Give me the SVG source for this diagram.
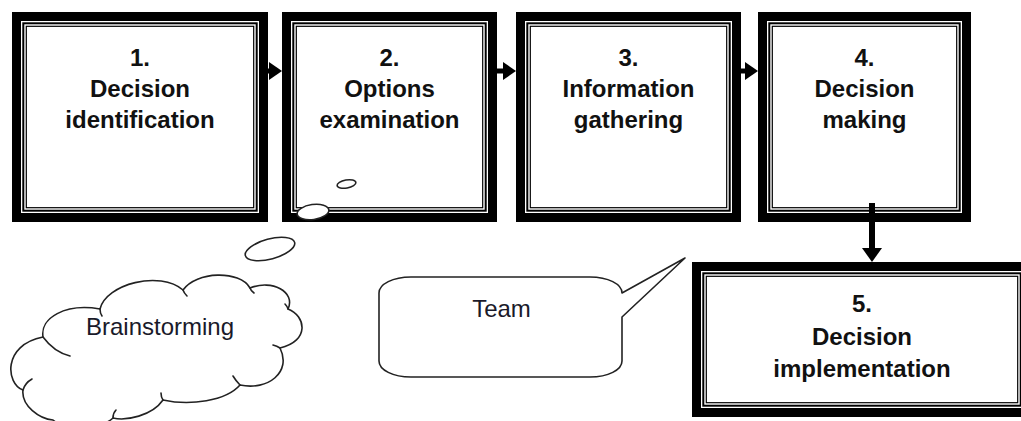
<svg xmlns="http://www.w3.org/2000/svg" width="1021" height="421" viewBox="0 0 1021 421">
<style>
.outer{fill:#fff;stroke:#000;stroke-width:9}
.la{fill:none;stroke:#000;stroke-width:2}
.lb{fill:none;stroke:#000;stroke-width:1.2}
.bt{font-family:"Liberation Sans",Arial,sans-serif;font-weight:bold;font-size:24px;fill:#111;text-anchor:middle}
.nt{font-family:"Liberation Sans",Arial,sans-serif;font-size:24px;fill:#1a1a2a;text-anchor:middle}
.shape{fill:#fff;stroke:#222;stroke-width:1.6;stroke-linejoin:round}
.curl{fill:none;stroke:#222;stroke-width:1.6;stroke-linecap:round}
.shaft{stroke:#000;fill:none}
.head{fill:#000}
</style>
<g id="node1">
<rect class="outer" x="16.5" y="16.5" width="247" height="201"/>
<rect class="la" x="23.3" y="23.3" width="233.4" height="187.4"/>
<rect class="lb" x="26.3" y="26.3" width="227.4" height="181.4"/>
<text class="bt" x="140" y="66">1.</text>
<text class="bt" x="140" y="97">Decision</text>
<text class="bt" x="140" y="128">identification</text>
</g>
<g id="node2">
<rect class="outer" x="286.5" y="16.5" width="206" height="201"/>
<rect class="la" x="293.3" y="23.3" width="192.4" height="187.4"/>
<rect class="lb" x="296.3" y="26.3" width="186.4" height="181.4"/>
<text class="bt" x="389.5" y="66">2.</text>
<text class="bt" x="389.5" y="97">Options</text>
<text class="bt" x="389.5" y="128">examination</text>
</g>
<g id="node3">
<rect class="outer" x="520.5" y="16.5" width="216" height="201"/>
<rect class="la" x="527.3" y="23.3" width="202.4" height="187.4"/>
<rect class="lb" x="530.3" y="26.3" width="196.4" height="181.4"/>
<text class="bt" x="628.5" y="66">3.</text>
<text class="bt" x="628.5" y="97">Information</text>
<text class="bt" x="628.5" y="128">gathering</text>
</g>
<g id="node4">
<rect class="outer" x="762.5" y="16.5" width="204" height="201"/>
<rect class="la" x="769.3" y="23.3" width="190.4" height="187.4"/>
<rect class="lb" x="772.3" y="26.3" width="184.4" height="181.4"/>
<text class="bt" x="864.5" y="66">4.</text>
<text class="bt" x="864.5" y="97">Decision</text>
<text class="bt" x="864.5" y="128">making</text>
</g>
<g id="node5">
<rect class="outer" x="696.5" y="266.5" width="331" height="146"/>
<rect class="la" x="703.3" y="273.3" width="317.4" height="132.4"/>
<rect class="lb" x="706.3" y="276.3" width="311.4" height="126.4"/>
<text class="bt" x="862" y="312">5.</text>
<text class="bt" x="862" y="345">Decision</text>
<text class="bt" x="862" y="377">implementation</text>
</g>
<g id="connectors">
<path class="shaft" stroke-width="5" d="M266,71 H271"/>
<polygon class="head" points="269,62 282,71 269,80"/>
<path class="shaft" stroke-width="5" d="M495,71 H505"/>
<polygon class="head" points="503,62 516,71 503,80"/>
<path class="shaft" stroke-width="5" d="M739,71 H747"/>
<polygon class="head" points="745,62 758,71 745,80"/>
<path class="shaft" stroke-width="6" d="M872,203 V250"/>
<polygon class="head" points="862,248 882,248 872,262"/>
</g>
<g id="brainstorming">
<ellipse class="shape" cx="346.5" cy="184" rx="9.5" ry="4" transform="rotate(-10 346.5 184)"/>
<ellipse class="shape" cx="313" cy="212" rx="16" ry="7.5" transform="rotate(-8 313 212)"/>
<ellipse class="shape" cx="270" cy="249" rx="25.5" ry="10" transform="rotate(-15 270 249)"/>
<path class="shape" d="M43,337 C40,318 65,303 100,309 C106,284 160,270 183,290 C196,271 240,270 250,288 C272,279 296,292 288,309 C306,316 310,341 280,348 C292,372 268,391 240,385 C226,401 190,406 163,400 C152,416 126,421 113,418 C100,430 64,430 53,420 C40,419 21,406 23,390 C6,384 2,345 43,337 Z"/>
<path class="curl" d="M43,337 Q54,352 70,356"/>
<path class="curl" d="M23,390 Q25,383 32,379"/>
<path class="curl" d="M113,418 Q113,413 116,410"/>
<path class="curl" d="M163,400 Q161,397 161,393"/>
<path class="curl" d="M240,385 Q236,381 233,376"/>
<path class="curl" d="M280,348 Q277,346 273,345"/>
<path class="curl" d="M288,309 Q287,306 285,304"/>
<path class="curl" d="M250,288 Q251,291 254,293"/>
<path class="curl" d="M183,290 Q184,293 187,296"/>
<path class="curl" d="M100,309 Q100,313 102,316"/>
<text class="nt" x="160" y="335">Brainstorming</text>
</g>
<g id="team">
<path class="shape" d="M411,277 H590 C608,277 622,284 622,293 L685,258 L622,317 V361 C622,370 608,377 590,377 H411 C393,377 379,370 379,361 V293 C379,284 393,277 411,277 Z"/>
<text class="nt" x="501.5" y="317">Team</text>
</g>
</svg>
